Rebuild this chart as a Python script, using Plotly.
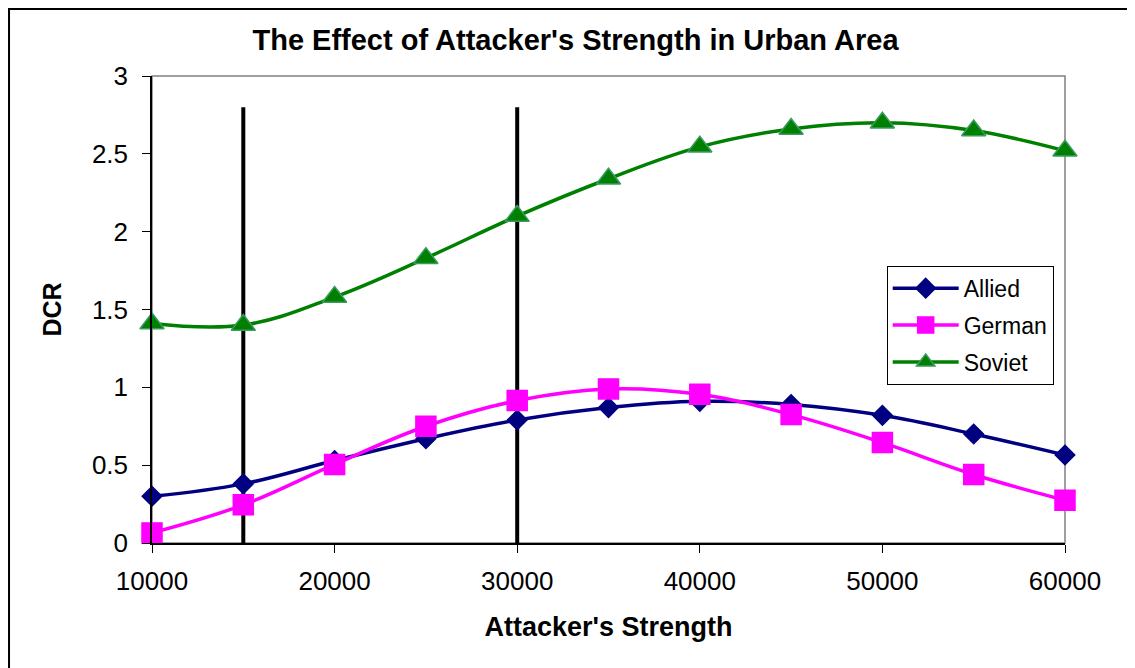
import plotly.graph_objects as go

# ---------------------------
# Data
# ---------------------------
strength = [10000, 15000, 20000, 25000, 30000, 35000, 40000, 45000, 50000, 55000, 60000]
allied = [0.30, 0.38, 0.53, 0.67, 0.79, 0.87, 0.91, 0.89, 0.82, 0.70, 0.565]
german = [0.065, 0.245, 0.505, 0.75, 0.915, 0.99, 0.955, 0.825, 0.645, 0.44, 0.275]
soviet = [1.41, 1.40, 1.58, 1.83, 2.10, 2.34, 2.545, 2.66, 2.70, 2.65, 2.52]

# black vertical reference lines
ref_x = [15000, 30000]
ref_top = 2.8

FONT = "Liberation Sans, Arial, sans-serif"

fig = go.Figure()

# reference lines first so the series sit on top
for xv in ref_x:
    fig.add_trace(go.Scatter(
        x=[xv, xv], y=[0, ref_top], mode="lines",
        line=dict(color="black", width=4),
        showlegend=False, hoverinfo="skip"
    ))

series = [
    ("Allied", allied, "#000080", "diamond", 15, "#000080"),
    ("German", german, "#FF00FF", "square", 20, "#FF00FF"),
    ("Soviet", soviet, "#008000", "triangle-up", 21, "#3A9A60"),
]
for name, vals, col, sym, size, edge in series:
    fig.add_trace(go.Scatter(
        x=strength, y=vals, name=name, mode="lines+markers",
        line=dict(color=col, width=3.5, shape="spline", smoothing=1.1),
        marker=dict(symbol=sym, size=size, color=col, line=dict(color=edge, width=1.5)),
        cliponaxis=False, legendgroup=name
    ))

# the page has an 8px body margin, so the figure is drawn 8px smaller
W, H = 1127, 660
fig.update_layout(
    width=W, height=H,
    margin=dict(l=144, r=70, t=68, b=125),
    paper_bgcolor="white", plot_bgcolor="white",
    font=dict(family=FONT, color="black"),
    title=dict(
        text="<b>The Effect of Attacker's Strength in Urban Area</b>",
        font=dict(size=29, family=FONT), x=567.5 / W, xanchor="center",
        y=1 - 32 / H, yanchor="middle", yref="container"
    ),
    legend=dict(
        x=0.8047, y=0.5938, xanchor="left", yanchor="top",
        bgcolor="white", bordercolor="black", borderwidth=1,
        font=dict(size=23, family=FONT), tracegroupgap=4,
        itemwidth=66
    ),
    showlegend=True,
)

fig.update_xaxes(
    range=[10000, 60000], tick0=10000, dtick=10000, tickformat="d",
    showgrid=False, zeroline=False,
    showline=True, linecolor="black", linewidth=1.5,
    ticks="outside", ticklen=8, tickcolor="black",
    tickfont=dict(size=26, family=FONT), ticklabelstandoff=6,
    title=dict(text="<b>Attacker's Strength</b>", font=dict(size=27, family=FONT), standoff=22),
)
fig.update_yaxes(
    range=[0, 3], dtick=0.5,
    showgrid=False, zeroline=False,
    showline=True, linecolor="black", linewidth=1.5,
    ticks="outside", ticklen=8, tickcolor="black",
    tickfont=dict(size=26, family=FONT), ticklabelstandoff=9,
    title=dict(text="<b>DCR</b>", font=dict(size=25, family=FONT), standoff=23),
)

# gray plot-area frame (top/right) and outer chart border
fig.add_shape(type="rect", xref="paper", yref="paper", x0=0, y0=0, x1=1, y1=1,
              line=dict(color="#808080", width=1.5), layer="below")
fig.add_shape(type="rect", xref="paper", yref="paper", x0=-0.1566, y0=-0.35, x1=1.2, y1=1.1435,
              line=dict(color="black", width=2), layer="below")

fig.write_html("out.html")
